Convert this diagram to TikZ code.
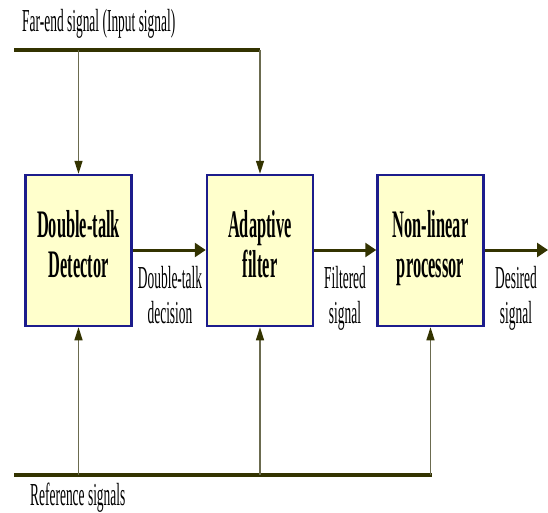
\documentclass[tikz,border=0pt]{standalone}
\usepackage{fontspec}
\setmainfont{Liberation Serif}[FakeStretch=0.42]
\usetikzlibrary{arrows.meta}
\definecolor{barcol}{HTML}{333300}
\definecolor{thincol}{HTML}{6B6B4F}
\definecolor{boxfill}{HTML}{FFFFCC}
\definecolor{boxline}{HTML}{1C1C8C}
\newcommand\boxlines[2]{#1\\#2\rule[-14pt]{0pt}{14pt}}
\tikzset{
  procbox/.style={draw=boxline, line width=2.5pt, fill=boxfill, minimum width=106pt, minimum height=151pt, inner sep=0pt, align=center, font=\fontsize{39}{40}\selectfont\bfseries},
  bar/.style={draw=barcol, line width=4.5pt},
  thinarrow/.style={draw=thincol, line width=1.5pt, -{Triangle[length=13pt,width=8pt,color=barcol]}},
  thickarrow/.style={draw=barcol, line width=3pt, -{Triangle[length=11pt,width=14pt]}},
  lbl/.style={inner sep=0pt, align=center, font=\fontsize{32}{35}\selectfont},
}
\begin{document}
\begin{tikzpicture}[x=1pt,y=-1pt]
\useasboundingbox (0,0) rectangle (548,512);
\node[procbox] (dtd) at (78.5,250.5) {\boxlines{Double-talk}{Detector}};
\node[procbox] (af) at (260,250.5) {\boxlines{Adaptive}{filter}};
\node[procbox] (nlp) at (430.5,250.5) {\boxlines{Non-linear}{processor}};
\coordinate (tl) at (14,50);
\coordinate (tr) at (260,50);
\coordinate (bl) at (14,475);
\coordinate (br) at (432,475);
\coordinate (out) at (548,250);
\draw[bar] (tl) -- (tr);
\draw[bar] (bl) -- (br);
\draw[thinarrow] (dtd.north |- tl) -- (dtd.north);
\draw[thinarrow] (tr) -- (af.north);
\draw[thinarrow] (dtd.south |- bl) -- (dtd.south);
\draw[thinarrow] (af.south |- bl) -- (af.south);
\draw[thinarrow] (nlp.south |- br) -- (nlp.south);
\draw[thickarrow] (dtd.east |- out) -- (af.west |- out);
\draw[thickarrow] (af.east |- out) -- (nlp.west |- out);
\draw[thickarrow] (nlp.east |- out) -- (out);
\node[lbl, anchor=base west] (far) at (22,31) {Far-end signal (Input signal)};
\node[lbl, anchor=base west] (ref) at (30,505) {Reference signals};
\node[lbl, anchor=base] (dec) at (170,323) {Double-talk\\decision};
\node[lbl, anchor=base] (filt) at (345,323) {Filtered\\signal};
\node[lbl, anchor=base] (des) at (516,323) {Desired\\signal};
\end{tikzpicture}
\end{document}
